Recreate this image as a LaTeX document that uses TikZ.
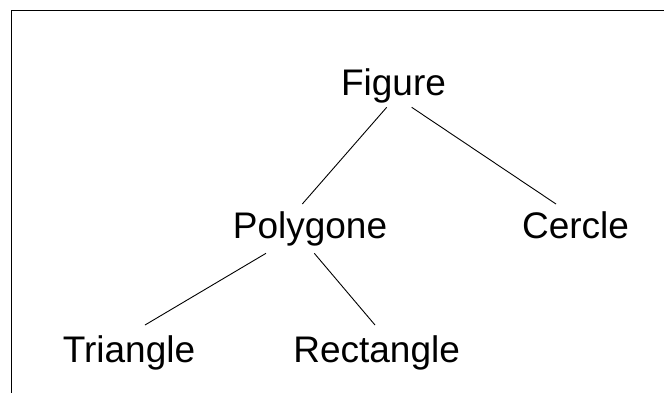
\documentclass[tikz,border=0pt]{standalone}
\usepackage{fontspec}
\setmainfont{Liberation Sans}
\usetikzlibrary{calc}
\begin{document}
\begin{tikzpicture}[x=1pt,y=-1pt,
  lbl/.style={inner sep=0pt,outer sep=0pt,anchor=base,text height=26.5pt,text depth=7.8pt,font=\fontsize{37}{44}\selectfont},
  edge/.style={line width=0.9pt}]
\useasboundingbox (0,0) rectangle (664,392);
\draw[line width=1pt] (11,10) rectangle (700,430);
\node[lbl] (fig) at (393.5,95) {Figure};
\node[lbl] (poly) at (310,238.3) {Polygone};
\node[lbl] (cer) at (575.5,238.3) {Cercle};
\node[lbl] (tri) at (129,362.7) {Triangle};
\node[lbl] (rect) at (376.6,362.7) {Rectangle};
\draw[edge] ($(fig.south)+(-6.8,4.5)$) -- ($(poly.north)+(-7.7,-7.8)$);
\draw[edge] ($(fig.south)+(18.2,4.5)$) -- ($(cer.north)+(-19.5,-7.8)$);
\draw[edge] ($(poly.south)+(-44,7.2)$) -- ($(tri.north)+(16,-11.2)$);
\draw[edge] ($(poly.south)+(4.3,7.2)$) -- ($(rect.north)+(-1.6,-11.2)$);
\end{tikzpicture}
\end{document}
